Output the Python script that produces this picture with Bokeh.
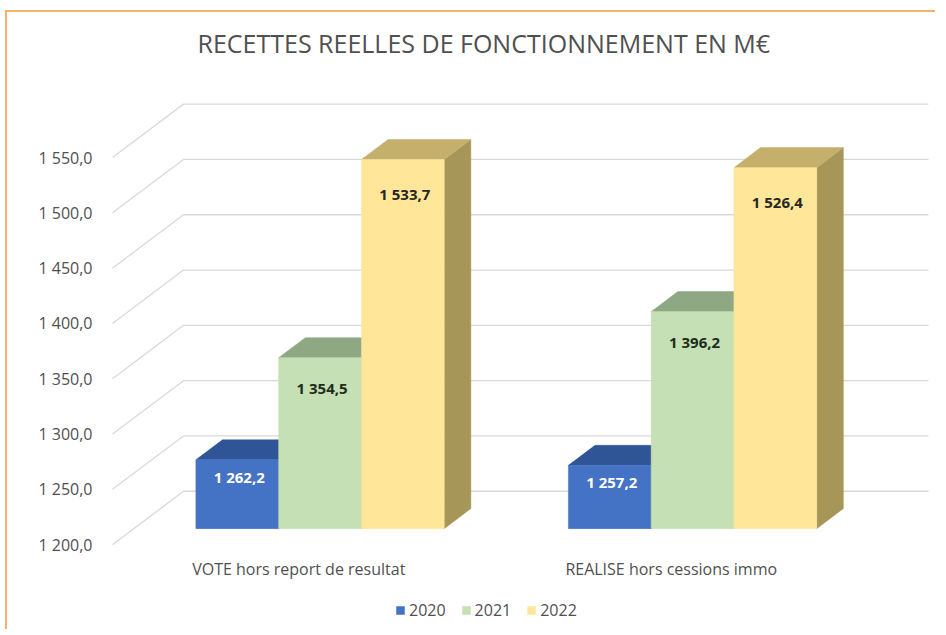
from bokeh.plotting import figure
from bokeh.models import Range1d, FixedTicker, Legend, LegendItem
from bokeh.core.properties import value
from bokeh.embed import file_html
from bokeh.resources import INLINE

# ---------------- data ----------------
title_text = "RECETTES REELLES DE FONCTIONNEMENT EN M€"
categories = ["VOTE hors report de resultat", "REALISE hors cessions immo"]
years = ["2020", "2021", "2022"]
values_2020 = [1262.2, 1257.2]
values_2021 = [1354.5, 1396.2]
values_2022 = [1533.7, 1526.4]
y_ticks = [1200, 1250, 1300, 1350, 1400, 1450, 1500, 1550]
y_tick_labels = ["1 200,0", "1 250,0", "1 300,0", "1 350,0",
                 "1 400,0", "1 450,0", "1 500,0", "1 550,0"]

series = [values_2020, values_2021, values_2022]

# ---------------- style ----------------
front_colors = ["#4472C4", "#C5E0B4", "#FFE699"]
top_colors = ["#2F5597", "#8FA884", "#C4B06C"]
side_colors = ["#203864", "#6F8A62", "#A69658"]
label_colors = ["#FFFFFF", "#1F2D1A", "#262626"]
label_dy = [17, 30, 34]
FONT = "Open Sans"
GREY = "#505050"

# ---------------- layout ----------------
W, H = 930, 619
ML, MT = 92, 57
CX0, CY0 = 7, 12          # canvas position on page (after css border/margins)
PX_X = 372.5              # pixels per category unit
PX_Y = 1.108              # pixels per M€
FLOOR_LEFT_PAGE = 112
FLOOR_BASE_PAGE = 544
base = y_ticks[0]

x_start = (CX0 + ML - FLOOR_LEFT_PAGE) / PX_X
x_end = x_start + (W - ML) / PX_X
y_top = base + (FLOOR_BASE_PAGE - (CY0 + MT)) / PX_Y
y_bot = y_top - (H - MT) / PX_Y

DX = 71 / PX_X            # full depth of the floor
DY = 53.5 / PX_Y
F0 = 0.30                 # bar front plane (fraction of depth)
FD = 0.375                # bar depth (fraction of depth)
ox, oy = F0 * DX, F0 * DY
bx, by = FD * DX, FD * DY
n_cat = len(categories)
n_ser = len(series)
bw = 1.0 / (n_ser + 1.5)

p = figure(width=W, height=H, x_range=Range1d(x_start, x_end),
           y_range=Range1d(y_bot, y_top), output_backend="svg",
           toolbar_location=None, min_border_left=ML, min_border_top=MT,
           min_border_right=0, min_border_bottom=0,
           x_axis_location=None, y_axis_location="left", title=title_text)
p.styles = {"border-left": "2px solid #F4B26B", "border-top": "2px solid #F4B26B",
            "margin-left": "5px", "margin-top": "10px"}
p.outline_line_color = None
p.xgrid.visible = False
p.ygrid.visible = False
p.background_fill_color = "white"

p.title.text_font = FONT
p.title.text_font_size = "25px"
p.title.text_font_style = "normal"
p.title.text_color = GREY
p.title.align = "left"
p.title.offset = 197 - (CX0 + ML)
p.title.standoff = 22

ax = p.yaxis[0]
ax.ticker = FixedTicker(ticks=y_ticks)
ax.major_label_overrides = {t: lab for t, lab in zip(y_ticks, y_tick_labels)}
ax.axis_line_color = None
ax.major_tick_line_color = None
ax.minor_tick_line_color = None
ax.major_label_text_font = FONT
ax.major_label_text_font_size = "16px"
ax.major_label_text_color = GREY
ax.major_label_standoff = 1

# gridlines: front diagonal + back wall
gx = [[0, DX, n_cat + DX] for t in y_ticks]
gy = [[t, t + DY, t + DY] for t in y_ticks]
p.multi_line(gx, gy, line_color="#D9D9D9", line_width=1.3)

legend_items = []
for j, vals in enumerate(series):
    fx, fy, tx, ty, sx, sy = [], [], [], [], [], []
    lx, ly, lt = [], [], []
    for i, v in enumerate(vals):
        x0 = i + 0.5 - n_ser * bw / 2 + j * bw + ox
        x1 = x0 + bw
        b0 = base + oy
        v0 = v + oy
        fx.append([x0, x1, x1, x0]); fy.append([b0, b0, v0, v0])
        tx.append([x0, x1, x1 + bx, x0 + bx]); ty.append([v0, v0, v0 + by, v0 + by])
        sx.append([x1, x1 + bx, x1 + bx, x1]); sy.append([b0, b0 + by, v0 + by, v0])
        lx.append((x0 + x1) / 2); ly.append(v0)
        lt.append(f"{v:,.1f}".replace(",", " ").replace(".", ","))
    p.patches(sx, sy, fill_color=side_colors[j], line_color=side_colors[j], line_width=0.5)
    p.patches(tx, ty, fill_color=top_colors[j], line_color=top_colors[j], line_width=0.5)
    r = p.patches(fx, fy, fill_color=front_colors[j], line_color=front_colors[j], line_width=0.5)
    legend_items.append(LegendItem(label=years[j], renderers=[r]))
    p.text(x=lx, y=ly, text=lt, text_align="center", text_baseline="middle",
           x_offset=2, y_offset=label_dy[j], text_font=value(FONT),
           text_font_style="bold", text_font_size="15px", text_color=label_colors[j])

# category labels
p.text(x=[i + 0.5 for i in range(n_cat)], y=[base] * n_cat, text=categories,
       text_align="center", text_baseline="middle", y_offset=24,
       text_font=value(FONT), text_font_size="16px", text_color=GREY)

legend = Legend(items=legend_items, orientation="horizontal", location=(296, 10),
                padding=0, margin=0, border_line_color=None, background_fill_alpha=0,
                glyph_width=10, glyph_height=10, label_standoff=4, spacing=15,
                label_text_font=FONT, label_text_font_size="16px", label_text_color=GREY)
p.add_layout(legend, "center")

open("out.html", "w").write(file_html(p, INLINE))
